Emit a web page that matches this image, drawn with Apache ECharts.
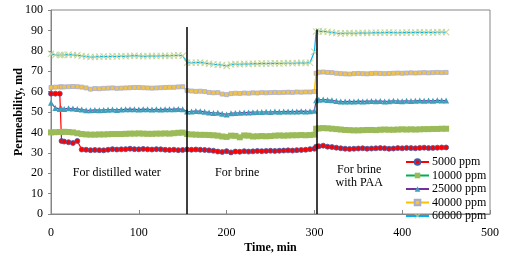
<!DOCTYPE html>
<html>
<head>
<meta charset="utf-8">
<script src="https://cdn.jsdelivr.net/npm/echarts@6/dist/echarts.min.js"></script>
<style>
  html, body { margin: 0; padding: 0; background: #fff; }
  #chart { width: 515px; height: 257px; }
</style>
</head>
<body>
<div id="chart"></div>
<script>
// time, min (sampled every ~5 min, extra points at the step changes)
const times = [
  0, 5, 10, 12, 15, 20, 25, 30, 35, 40, 45, 50, 55, 60, 65, 70, 75, 80, 85, 90, 95, 100,
  105, 110, 115, 120, 125, 130, 135, 140, 145, 150, 155, 160, 165, 170, 175, 180, 185, 190, 195, 200,
  205, 210, 215, 220, 225, 230, 235, 240, 245, 250, 255, 260, 265, 270, 275, 280, 285, 290, 295, 300,
  302, 305, 310, 315, 320, 325, 330, 335, 340, 345, 350, 355, 360, 365, 370, 375, 380, 385, 390, 395, 400,
  405, 410, 415, 420, 425, 430, 435, 440, 445, 450
];

const ppm5000 = [
  59, 59, 59, 35.8, 35.5, 35.2, 34.8, 35.8, 31.6, 31.5, 31.3, 31.4, 31.3, 31.2, 31.5, 31.8, 31.6, 31.7, 31.8, 32, 31.8, 31.7,
  31.9, 31.7, 31.6, 31.8, 31.7, 31.5, 31.4, 31.5, 31.3, 31.4, 31.6, 31.5, 31.6, 31.5, 31.4, 31.2, 31, 30.6, 30.4, 30.8,
  30.2, 30.6, 30.5, 30.8, 30.6, 30.7, 30.9, 30.8, 30.9, 31, 30.9, 31, 31.1, 31.2, 31.1, 31.3, 31.4, 31.5, 31.8, 32,
  33, 33.2, 33.5, 33, 32.8, 32.5, 32.2, 32, 31.9, 32, 32.1, 32.2, 32, 32.1, 32.2, 32.3, 32.2, 32, 32.1, 32.3, 32.2,
  32.4, 32.3, 32.2, 32.4, 32.5, 32.3, 32.4, 32.5, 32.6, 32.6
];
const ppm10000 = [
  40, 40.1, 40.2, 40.2, 40.3, 40.2, 40, 39.6, 39.2, 39, 38.9, 38.9, 39, 39, 39.1, 39.2, 39.2, 39.2, 39.3, 39.4, 39.4, 39.5,
  39.4, 39.3, 39.3, 39.4, 39.4, 39.5, 39.4, 39.6, 39.8, 39.9, 39.2, 39, 38.9, 38.8, 38.8, 38.7, 38.6, 38.4, 38, 37.8,
  38.4, 38.3, 37.6, 38.5, 38.4, 38, 38.1, 38.2, 38.1, 38.2, 38.4, 38.5, 38.4, 38.5, 38.6, 38.6, 38.7, 38.6, 38.7, 38.9,
  41.8, 42, 42.1, 42, 41.8, 41.6, 41.4, 41.2, 41.1, 41, 41, 41.1, 41.2, 41.2, 41.1, 41.3, 41.4, 41.3, 41.3, 41.4, 41.5,
  41.4, 41.5, 41.4, 41.5, 41.6, 41.6, 41.7, 41.7, 41.8, 41.8
];
const ppm25000 = [
  54.5, 52, 51.5, 51.6, 51.5, 51.8, 51.7, 51.5, 51.2, 50.9, 50.8, 51, 50.9, 51, 51.1, 51.2, 51, 51.2, 51.3, 51.4, 51.3, 51.2,
  51.4, 51.3, 51.2, 51.3, 51.2, 51.4, 51.3, 51.4, 51.5, 51.3, 50.2, 50.3, 50.5, 50.4, 50.1, 49.8, 49.5, 49.6, 49.2, 48.8,
  49.4, 49.5, 49.6, 49.7, 49.8, 49.9, 50, 50, 50.1, 50, 50.2, 50.1, 50.2, 50.3, 50.2, 50.3, 50.4, 50.3, 50.4, 50.6,
  55.8, 56, 56.1, 55.9, 55.7, 55.4, 55.2, 55.1, 55.2, 55.1, 55.3, 55.2, 55.3, 55.4, 55.3, 55.4, 55.2, 55.3, 55.5, 55.4, 55.3,
  55.5, 55.4, 55.5, 55.6, 55.5, 55.6, 55.5, 55.7, 55.6, 55.6
];
const ppm40000 = [
  62, 62.2, 62.3, 62.3, 62.3, 62.4, 62.5, 62.4, 62.2, 61.8, 61.2, 61.5, 61.4, 61.6, 61.7, 61.8, 61.6, 61.7, 61.8, 61.9, 62, 62,
  61.9, 61.8, 61.7, 61.8, 61.9, 62, 62.1, 62.1, 62.3, 62.4, 60.5, 60.3, 60.1, 60.2, 60, 59.6, 59.4, 59.5, 58.8, 58.5,
  59, 59.2, 59.1, 59.3, 59.2, 59.4, 59.3, 59.5, 59.4, 59.5, 59.6, 59.5, 59.6, 59.7, 59.6, 59.8, 59.7, 59.8, 59.8, 60,
  69, 69.5, 69.6, 69.4, 69.3, 69, 68.8, 68.7, 68.6, 68.8, 68.9, 68.8, 68.7, 68.9, 69, 68.9, 68.8, 68.9, 69, 69.1, 69,
  69.1, 69.2, 69.1, 69.2, 69.3, 69.2, 69.3, 69.4, 69.3, 69.4
];
const ppm60000 = [
  78.5, 78, 77.9, 78, 78, 78.1, 78, 77.8, 77.5, 77.2, 76.9, 77, 77.1, 77.2, 77.1, 77.3, 77.2, 77.4, 77.3, 77.5, 77.6, 77.5,
  77.3, 77.4, 77.5, 77.4, 77.5, 77.6, 77.5, 77.7, 77.8, 77.6, 74.2, 74.1, 74.2, 74.3, 74, 73.7, 73.4, 73.2, 73, 72.6,
  73.3, 73.5, 73.4, 73.6, 73.5, 73.7, 73.6, 73.8, 73.7, 73.8, 73.9, 73.8, 73.9, 74, 73.9, 74, 74.1, 74, 74.2, 79.5,
  89.5, 89.6, 89.5, 89.3, 89, 88.7, 88.5, 88.6, 88.7, 88.6, 88.7, 88.8, 88.7, 88.8, 88.9, 88.8, 88.9, 89, 88.9, 88.8, 88.9,
  89, 88.9, 89, 89.1, 89, 89.1, 89, 89.1, 89.2, 89.1
];

const seriesNames = ['5000 ppm', '10000 ppm', '25000 ppm', '40000 ppm', '60000 ppm'];
const stageBreaks = [155, 303];
const stageLabels = ['For distilled water', 'For brine', 'For brine\nwith PAA'];

const serif = "'Liberation Serif', 'Times New Roman', serif";
const pair = (vals) => times.map((t, i) => [t, vals[i]]);
const crossPath = 'path://M0,1L1,0L5,4L9,0L10,1L6,5L10,9L9,10L5,6L1,10L0,9L4,5Z';

const chart = echarts.init(document.getElementById('chart'));

const option = {
  animation: false,
  textStyle: { fontFamily: serif },
  grid: {
    left: 51, top: 10, right: 25, bottom: 43,
    outerBoundsMode: 'none',
    containLabel: false,
    show: true, borderColor: '#868686', borderWidth: 1
  },
  legend: {
    data: seriesNames,
    orient: 'vertical',
    left: 405, top: 156,
    padding: 0,
    itemGap: 1.5,
    itemWidth: 23,
    itemHeight: 7,
    textStyle: { fontFamily: serif, fontSize: 12, color: '#000', lineHeight: 12, padding: [0, 0, 0, -2] }
  },
  xAxis: {
    type: 'value',
    min: 0, max: 500, interval: 100,
    name: 'Time, min',
    nameLocation: 'middle',
    nameGap: 28,
    nameMoveOverlap: false,
    nameTextStyle: { fontFamily: serif, fontSize: 12, fontWeight: 'bold', color: '#000' },
    axisLine: { lineStyle: { color: '#868686' } },
    axisTick: { inside: true, length: 4, lineStyle: { color: '#868686' } },
    axisLabel: { fontFamily: serif, fontSize: 12, color: '#000', margin: 13 },
    splitLine: { show: false }
  },
  yAxis: {
    type: 'value',
    min: 0, max: 100, interval: 10,
    name: 'Permeability, md',
    nameLocation: 'middle',
    nameGap: 26,
    nameMoveOverlap: false,
    nameTextStyle: { fontFamily: serif, fontSize: 12, fontWeight: 'bold', color: '#000' },
    axisLine: { show: true, lineStyle: { color: '#868686' } },
    axisTick: { show: true, length: 3, lineStyle: { color: '#868686' } },
    axisLabel: { fontFamily: serif, fontSize: 12, color: '#000', margin: 8 },
    splitLine: { show: false }
  },
  series: [
    {
      name: seriesNames[0],
      type: 'line',
      data: pair(ppm5000),
      symbol: 'circle',
      symbolSize: 5,
      lineStyle: { color: '#ff0000', width: 1.2 },
      itemStyle: { color: '#ff0000', borderColor: '#3a5dae', borderWidth: 0.8 },
      markLine: {
        silent: true,
        symbol: 'none',
        label: { show: false },
        lineStyle: { color: '#000', width: 1.5, type: 'solid' },
        data: [
          [{ coord: [stageBreaks[0], 0] }, { coord: [stageBreaks[0], 91.7] }],
          [{ coord: [stageBreaks[1], 0] }, { coord: [stageBreaks[1], 90.5] }]
        ]
      },
      markPoint: {
        silent: true,
        symbol: 'circle',
        symbolSize: 1,
        itemStyle: { color: 'rgba(0,0,0,0)' },
        label: {
          show: true,
          position: 'inside',
          formatter: (p) => p.name,
          fontFamily: serif,
          fontSize: 12,
          lineHeight: 13,
          color: '#000',
          align: 'center'
        },
        data: [
          { name: stageLabels[0], coord: [75, 20.2] },
          { name: stageLabels[1], coord: [212, 20.2] },
          { name: stageLabels[2], coord: [351, 18.4] }
        ]
      }
    },
    {
      name: seriesNames[1],
      type: 'line',
      data: pair(ppm10000),
      symbol: 'rect',
      symbolSize: 6,
      lineStyle: { color: '#00b050', width: 1.2 },
      itemStyle: { color: '#9bbb59' }
    },
    {
      name: seriesNames[2],
      type: 'line',
      data: pair(ppm25000),
      symbol: 'triangle',
      symbolSize: 6,
      lineStyle: { color: '#7030a0', width: 1.2 },
      itemStyle: { color: '#3f9fbb' }
    },
    {
      name: seriesNames[3],
      type: 'line',
      data: pair(ppm40000),
      symbol: 'rect',
      symbolSize: 4,
      lineStyle: { color: '#ffc000', width: 1.5 },
      itemStyle: { color: '#f5c342', borderColor: '#a4acd4', borderWidth: 0.8 }
    },
    {
      name: seriesNames[4],
      type: 'line',
      data: pair(ppm60000),
      symbol: crossPath,
      symbolSize: 7,
      lineStyle: { color: '#00b0f0', width: 1.2 },
      itemStyle: { color: '#c3d69b' }
    }
  ]
};

chart.setOption(option);
</script>
</body>
</html>
